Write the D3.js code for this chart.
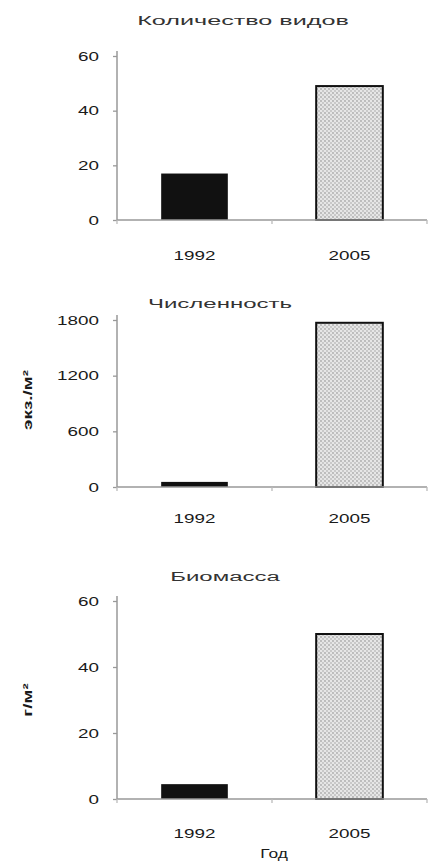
<!DOCTYPE html>
<html>
<head>
<meta charset="utf-8">
<script src="https://cdn.jsdelivr.net/npm/d3@7"></script>
<style>
  body { margin: 0; background: #fff; }
  svg text { font-family: "Liberation Sans", Arial, sans-serif; fill: #1a1a1a; }
</style>
</head>
<body>
<div id="grafico"></div>
<script>
// dados
const anos = ["1992", "2005"];
const titulos = ["Количество видов", "Численность", "Биомасса"];
const rotulosY = ["", "экз./м\u00B2", "г/м\u00B2"];
const valoresEspecies = [17, 49];
const valoresNumero = [55, 1770];
const valoresBiomassa = [4.5, 50];
const ticksEspecies = [0, 20, 40, 60];
const ticksNumero = [0, 600, 1200, 1800];
const ticksBiomassa = [0, 20, 40, 60];
const rotuloX = "Год";

var largura = 432, altura = 861;
var esticar = 1.45; // o scan está esticado na horizontal

var svg = d3.select("#grafico").append("svg")
    .attr("width", largura)
    .attr("height", altura);

var defs = svg.append("defs");
var padrao = defs.append("pattern")
    .attr("id", "pontilhado")
    .attr("width", 4).attr("height", 4)
    .attr("patternUnits", "userSpaceOnUse");
padrao.append("rect").attr("width", 4).attr("height", 4).attr("fill", "#e6e6e6");
padrao.append("circle").attr("cx", 1).attr("cy", 1).attr("r", 0.9).attr("fill", "#aaa");
padrao.append("circle").attr("cx", 3).attr("cy", 3).attr("r", 0.9).attr("fill", "#bbb");

var x = d3.scaleBand()
    .domain(anos)
    .range([117, 427])
    .paddingInner(0.57)
    .paddingOuter(0.285);

function textoEsticado(g, px, py, texto, opts) {
    opts = opts || {};
    var t = g.append("text")
        .attr("transform", "translate(" + px + "," + py + ")" + (opts.rot ? " rotate(" + opts.rot + ")" : "") + " scale(" + (opts.sx || esticar) + ",1)")
        .attr("text-anchor", opts.anchor || "middle")
        .attr("dy", "0.35em")
        .attr("font-size", (opts.size || 13) + "px")
        .attr("font-weight", opts.weight || "normal")
        .text(texto);
    return t;
}

function gerarPainel(cfg) {
    var g = svg.append("g");
    var y = d3.scaleLinear()
        .domain([0, d3.max(cfg.ticks)])
        .range([cfg.y0, cfg.yTopo]);

    // título
    textoEsticado(g, cfg.xTitulo, cfg.yTitulo, cfg.titulo, { size: 12, sx: cfg.sxTitulo })
        .style("fill", "#333");

    // barras
    g.selectAll("rect.barra")
        .data(cfg.valores)
        .enter().append("rect")
        .attr("class", "barra")
        .attr("x", (d, i) => x(anos[i]))
        .attr("y", d => y(d))
        .attr("width", x.bandwidth())
        .attr("height", d => y(0) - y(d))
        .attr("fill", (d, i) => i == 0 ? "#111" : "url(#pontilhado)")
        .attr("stroke", "#111")
        .attr("stroke-width", (d, i) => i == 0 ? 0 : 2);

    // eixo Y
    var eixoY = g.append("g")
        .attr("transform", "translate(117,0)")
        .call(d3.axisLeft(y).tickValues(cfg.ticks).tickSize(4).tickSizeOuter(0).tickFormat(""));
    eixoY.select(".domain").remove();
    eixoY.selectAll(".tick line").attr("stroke", "#999").attr("stroke-width", 1.3);
    g.append("line")
        .attr("x1", 117).attr("x2", 117)
        .attr("y1", y(0)).attr("y2", cfg.yTopo - 5)
        .attr("stroke", "#999").attr("stroke-width", 1.5);
    cfg.ticks.forEach(function (t) {
        textoEsticado(g, 99, y(t), String(t), { size: 13, anchor: "end" });
    });

    // eixo X
    g.append("line")
        .attr("x1", x.range()[0]).attr("x2", x.range()[1])
        .attr("y1", y(0)).attr("y2", y(0))
        .attr("stroke", "#999").attr("stroke-width", 1.5);
    var limites = [x.range()[0], x.range()[0] + x.step(), x.range()[1]];
    g.selectAll("line.tx")
        .data(limites)
        .enter().append("line")
        .attr("class", "tx")
        .attr("x1", d => d).attr("x2", d => d)
        .attr("y1", y(0)).attr("y2", y(0) + 4)
        .attr("stroke", "#bbb").attr("stroke-width", 1.3);
    anos.forEach(function (a) {
        textoEsticado(g, x(a) + x.bandwidth() / 2, cfg.yAnos, a, { size: 13 });
    });

    if (cfg.rotuloY) {
        textoEsticado(g, 27, cfg.yRotulo, cfg.rotuloY, { size: 13, rot: -90, weight: "bold" });
    }
    return g;
}

gerarPainel({ titulo: titulos[0], valores: valoresEspecies, ticks: ticksEspecies,
    y0: 220, yTopo: 56, yTitulo: 21, xTitulo: 243, sxTitulo: 2.1, yAnos: 255 });
gerarPainel({ titulo: titulos[1], valores: valoresNumero, ticks: ticksNumero,
    y0: 487, yTopo: 320, yTitulo: 304, xTitulo: 220, sxTitulo: 2.0, yAnos: 518,
    rotuloY: rotulosY[1], yRotulo: 400 });
var ultimo = gerarPainel({ titulo: titulos[2], valores: valoresBiomassa, ticks: ticksBiomassa,
    y0: 799, yTopo: 601, yTitulo: 577, xTitulo: 225, sxTitulo: 2.0, yAnos: 833,
    rotuloY: rotulosY[2], yRotulo: 700 });
textoEsticado(ultimo, 274, 854, rotuloX, { size: 12 });
</script>
</body>
</html>
